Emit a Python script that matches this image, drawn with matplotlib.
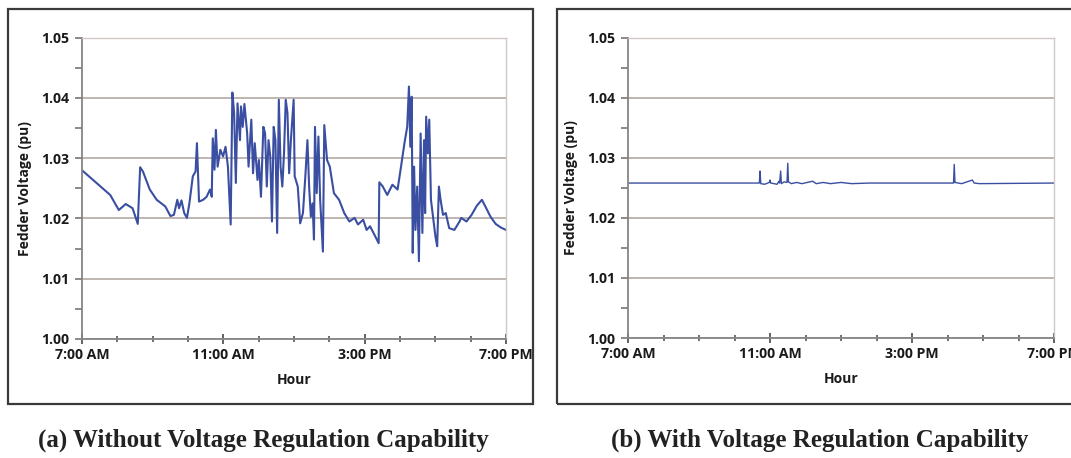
import numpy as np
import matplotlib.pyplot as plt
from matplotlib.patches import Rectangle
from matplotlib.ticker import MultipleLocator, FixedLocator

# hours after 7:00 AM and feeder voltage (pu)
hours_a = [0.000, 0.409, 0.799, 1.042, 1.237, 1.432, 1.578, 1.646, 1.724, 1.919,
           2.114, 2.357, 2.503, 2.601, 2.698, 2.747, 2.815, 2.893, 2.971, 3.039,
           3.136, 3.214, 3.253, 3.282, 3.312, 3.428, 3.526, 3.623, 3.672, 3.701,
           3.750, 3.789, 3.838, 3.915, 3.993, 4.062, 4.130, 4.208, 4.256, 4.305,
           4.354, 4.402, 4.471, 4.500, 4.549, 4.597, 4.675, 4.714, 4.792, 4.841,
           4.889, 4.967, 5.006, 5.065, 5.133, 5.182, 5.230, 5.279, 5.328, 5.376,
           5.425, 5.474, 5.523, 5.571, 5.620, 5.669, 5.717, 5.766, 5.815, 5.863,
           5.912, 5.990, 6.019, 6.107, 6.175, 6.253, 6.321, 6.380, 6.428, 6.477,
           6.526, 6.565, 6.594, 6.643, 6.691, 6.740, 6.818, 6.857, 6.935, 7.013,
           7.130, 7.276, 7.422, 7.568, 7.714, 7.811, 7.958, 8.055, 8.152, 8.250,
           8.396, 8.415, 8.513, 8.639, 8.785, 8.931, 9.029, 9.126, 9.204, 9.253,
           9.292, 9.331, 9.360, 9.399, 9.438, 9.487, 9.535, 9.584, 9.633, 9.681,
           9.711, 9.740, 9.789, 9.828, 9.876, 9.935, 10.003, 10.052, 10.101, 10.149,
           10.217, 10.295, 10.392, 10.539, 10.685, 10.733, 10.880, 11.026, 11.172, 11.318,
           11.415, 11.561, 11.707, 11.854, 12.000]
volts_a = [1.0280, 1.0259, 1.0239, 1.0214, 1.0224, 1.0217, 1.0191, 1.0285, 1.0278, 1.0248,
           1.0231, 1.0220, 1.0204, 1.0206, 1.0231, 1.0217, 1.0230, 1.0209, 1.0201, 1.0225,
           1.0270, 1.0278, 1.0325, 1.0278, 1.0228, 1.0231, 1.0236, 1.0248, 1.0236, 1.0333,
           1.0281, 1.0347, 1.0286, 1.0314, 1.0303, 1.0319, 1.0286, 1.0190, 1.0409, 1.0375,
           1.0259, 1.0391, 1.0330, 1.0386, 1.0352, 1.0390, 1.0341, 1.0286, 1.0364, 1.0275,
           1.0325, 1.0264, 1.0297, 1.0236, 1.0352, 1.0341, 1.0253, 1.0330, 1.0303, 1.0195,
           1.0352, 1.0330, 1.0176, 1.0397, 1.0286, 1.0253, 1.0308, 1.0397, 1.0375, 1.0275,
           1.0330, 1.0397, 1.0270, 1.0253, 1.0192, 1.0209, 1.0270, 1.0330, 1.0253, 1.0203,
           1.0225, 1.0165, 1.0352, 1.0242, 1.0336, 1.0231, 1.0145, 1.0355, 1.0297, 1.0286,
           1.0242, 1.0231, 1.0209, 1.0195, 1.0201, 1.0190, 1.0198, 1.0181, 1.0187, 1.0176,
           1.0159, 1.0260, 1.0253, 1.0239, 1.0256, 1.0248, 1.0286, 1.0325, 1.0352, 1.0419,
           1.0319, 1.0402, 1.0143, 1.0286, 1.0181, 1.0253, 1.0129, 1.0341, 1.0176, 1.0330,
           1.0209, 1.0369, 1.0308, 1.0364, 1.0231, 1.0203, 1.0170, 1.0154, 1.0253, 1.0231,
           1.0206, 1.0209, 1.0184, 1.0181, 1.0195, 1.0201, 1.0195, 1.0206, 1.0221, 1.0231,
           1.0220, 1.0203, 1.0191, 1.0185, 1.0181]

hours_b = [0.00, 3.70, 3.72, 3.74, 3.85, 3.98, 4.00, 4.02, 4.20, 4.25,
           4.27, 4.30, 4.32, 4.40, 4.48, 4.50, 4.52, 4.60, 4.75, 4.90,
           5.20, 5.30, 5.50, 5.70, 6.00, 6.30, 6.80, 9.17, 9.19, 9.21,
           9.40, 9.55, 9.70, 9.75, 9.90, 12.00]
volts_b = [1.0258, 1.0258, 1.0278, 1.0257, 1.0256, 1.0259, 1.0263, 1.0258, 1.0256, 1.0261,
           1.0258, 1.0278, 1.0257, 1.0260, 1.0259, 1.0291, 1.0260, 1.0257, 1.0259, 1.0257,
           1.0261, 1.0257, 1.0259, 1.0257, 1.0259, 1.0257, 1.0258, 1.0258, 1.0289, 1.0259,
           1.0257, 1.0260, 1.0263, 1.0258, 1.0257, 1.0258]

tick_hours = [0, 4, 8, 12]
tick_labels = ['7:00 AM', '11:00 AM', '3:00 PM', '7:00 PM']
captions = ['(a) Without Voltage Regulation Capability',
            '(b) With Voltage Regulation Capability']

LINE = '#3a4ea2'
GRID = '#bab0aa'
SANS = 'Open Sans'


def style_axes(ax, ylab_pad):
    '''Excel looking axes: gray grid, crossing hour ticks, bold labels'''
    ax.set_xlim(0, 12)
    ax.set_ylim(1.00, 1.05)
    ax.xaxis.set_major_locator(FixedLocator(tick_hours))
    ax.xaxis.set_minor_locator(MultipleLocator(1))
    ax.set_xticklabels(tick_labels)
    ax.yaxis.set_major_locator(MultipleLocator(0.01))
    ax.yaxis.set_minor_locator(MultipleLocator(0.005))
    ax.yaxis.set_major_formatter(plt.FormatStrFormatter('%.2f'))
    ax.grid(axis='y', which='major', color=GRID, lw=1.3)
    ax.set_axisbelow(True)
    for side in ['top', 'right']:
        ax.spines[side].set_color('#cfc8c6')
        ax.spines[side].set_linewidth(1.0)
    for side in ['left', 'bottom']:
        ax.spines[side].set_color('#858585')
        ax.spines[side].set_linewidth(1.3)
    ax.tick_params(axis='x', which='major', direction='inout', length=7, width=1.3,
                   color='#555555', pad=3)
    ax.tick_params(axis='x', which='minor', direction='inout', length=5, width=1.2,
                   color='#555555')
    ax.tick_params(axis='y', which='both', direction='out', length=5, width=1.2,
                   color='#777777', pad=4)
    for lab in ax.get_xticklabels() + ax.get_yticklabels():
        lab.set_fontfamily(SANS)
        lab.set_fontweight('bold')
        lab.set_fontsize(10.2)
        lab.set_color('#1a1a1a')
    ax.set_xlabel('Hour', fontfamily=SANS, fontweight='bold', fontsize=10,
                  color='#1a1a1a', labelpad=8)
    ax.set_ylabel('Fedder Voltage (pu)', fontfamily=SANS, fontweight='bold',
                  fontsize=10, color='#1a1a1a', labelpad=ylab_pad)


fig = plt.figure(figsize=(10.71, 4.58), dpi=100)
W, H = 1071.0, 458.0

# outer frames around each panel
fig.patches.append(Rectangle((8 / W, 1 - 404 / H), 525 / W, 395 / H, transform=fig.transFigure,
                             fill=False, edgecolor='#3a3a3a', lw=1.6))
fig.patches.append(Rectangle((557 / W, 1 - 404 / H), 520 / W, 395 / H, transform=fig.transFigure,
                             fill=False, edgecolor='#3a3a3a', lw=1.6))

ax1 = fig.add_axes([82 / W, 1 - 339 / H, 424 / W, 301.3 / H])
ax1.plot(hours_a, volts_a, color=LINE, lw=1.5)
style_axes(ax1, 7)

ax2 = fig.add_axes([628 / W, 1 - 338 / H, 426 / W, 300.3 / H])
ax2.plot(hours_b, volts_b, color=LINE, lw=1.0)
style_axes(ax2, 7)

fig.text(263 / W, 1 - 440 / H, captions[0], ha='center', va='center',
         fontfamily='Liberation Serif', fontweight='bold', fontsize=18, color='#222222')
fig.text(820 / W, 1 - 440 / H, captions[1], ha='center', va='center',
         fontfamily='Liberation Serif', fontweight='bold', fontsize=18, color='#222222')

fig.savefig('out.png', dpi=100)
plt.close()
